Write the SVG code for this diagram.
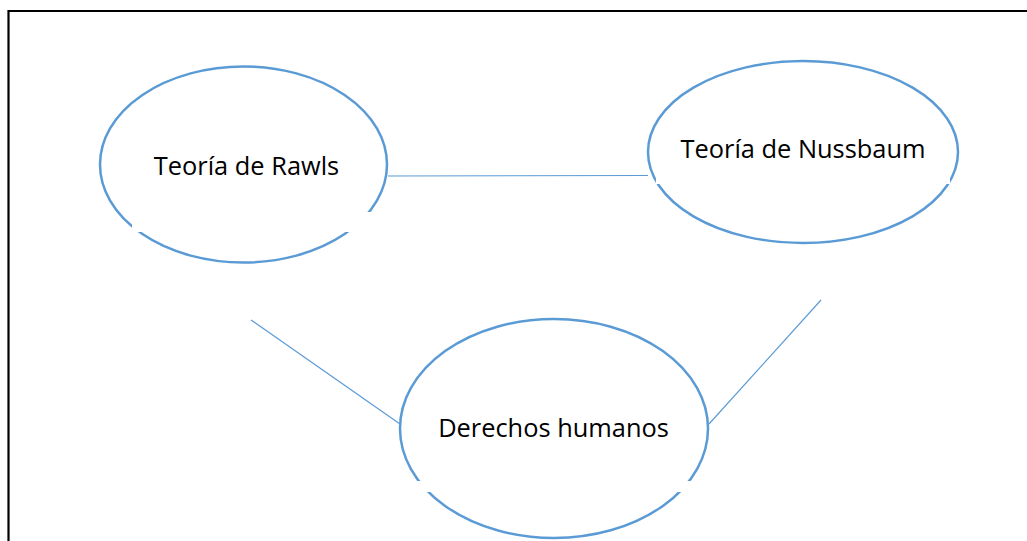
<svg xmlns="http://www.w3.org/2000/svg" width="1027" height="541" viewBox="0 0 1027 541">
<style>
.node{fill:#fff;stroke:#5B9BD5;stroke-width:2.5}
.mask{fill:#fff;stroke:none}
.conn{stroke:#5B9BD5;stroke-width:1.2;fill:none}
.lbl{font-family:"Open Sans","Liberation Sans",sans-serif;font-size:25.4px;fill:#000;text-anchor:middle}
</style>
<rect width="1027" height="541" fill="#fff"/>
<path d="M8.5,541 V11 H1027" fill="none" stroke="#000" stroke-width="2.2"/>
<g id="connectors">
<line class="conn" x1="388" y1="176" x2="648" y2="175.5"/>
<line class="conn" x1="251" y1="320" x2="400" y2="424"/>
<line class="conn" x1="821" y1="300" x2="709" y2="424"/>
</g>
<g id="node-rawls">
<ellipse class="node" cx="243.5" cy="164.5" rx="143.5" ry="98"/>
<rect class="mask" x="132" y="212" width="245" height="20"/>
<text class="lbl" x="246.5" y="175">Teoría de Rawls</text>
</g>
<g id="node-nussbaum">
<ellipse class="node" cx="803" cy="152" rx="155" ry="91"/>
<rect class="mask" x="656" y="177" width="294" height="7"/>
<text class="lbl" x="803" y="158">Teoría de Nussbaum</text>
</g>
<g id="node-derechos">
<ellipse class="node" cx="554" cy="428.5" rx="154" ry="109.5"/>
<rect class="mask" x="416" y="481" width="278" height="11"/>
<text class="lbl" x="553.5" y="437">Derechos humanos</text>
</g>
</svg>
